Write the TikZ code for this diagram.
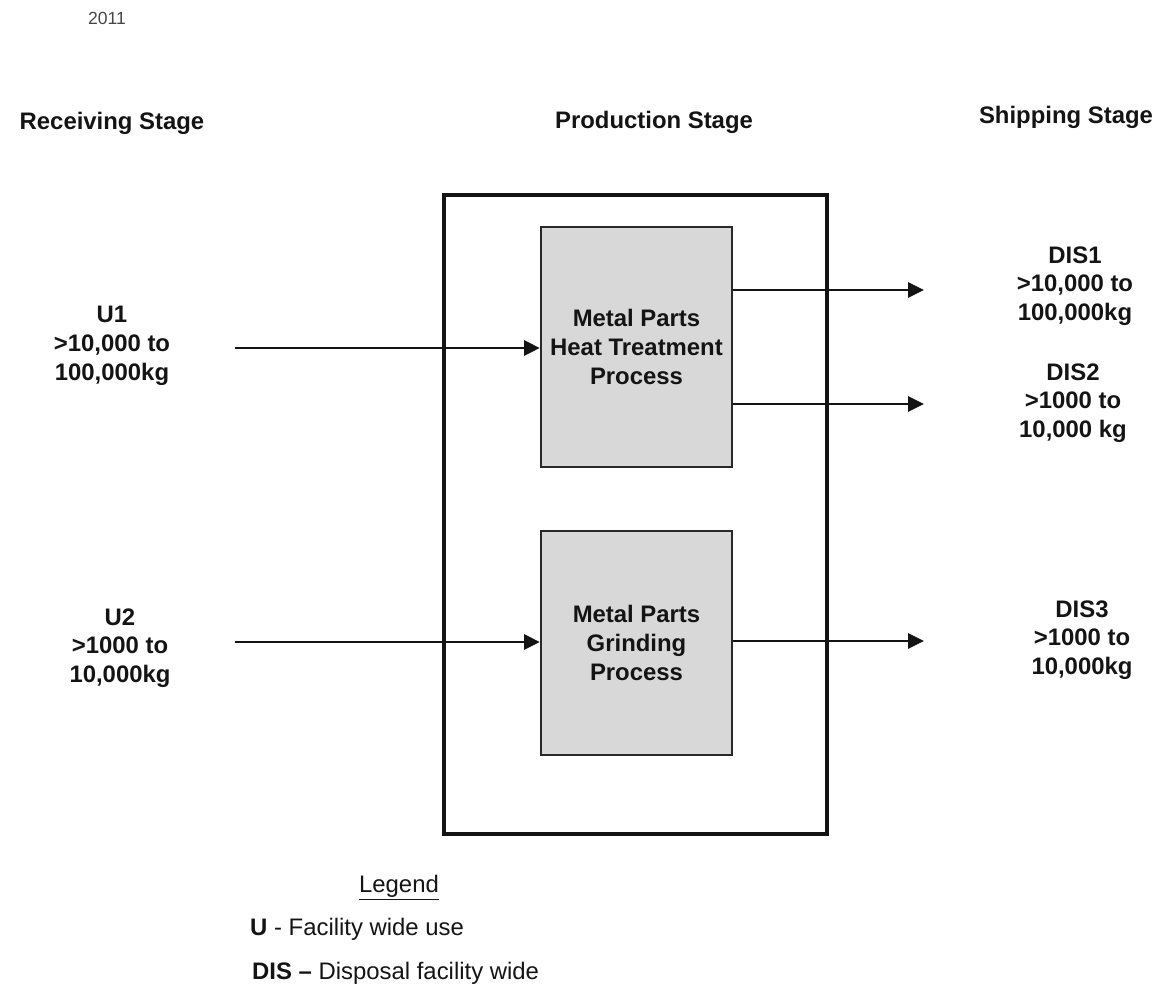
\documentclass[tikz,border=0pt]{standalone}
\usepackage{fontspec}
\setmainfont{Liberation Sans}
\usepackage{xcolor}
\usepackage{tikz}
\usetikzlibrary{arrows.meta,positioning}
\definecolor{procgray}{RGB}{216,216,216}
\definecolor{edgegray}{RGB}{40,40,40}
\definecolor{inkblack}{RGB}{20,20,20}
\definecolor{yeargray}{RGB}{70,70,70}

\begin{document}
\begin{tikzpicture}[x=0.02cm, y=-0.02cm,
  lbl/.style={align=center, text=inkblack, font=\fontsize{13.6}{16.4}\selectfont\bfseries},
  proc/.style={draw=edgegray, line width=1.3pt, fill=procgray, minimum width=3.82cm, align=center, text=inkblack, font=\fontsize{13.6}{16.4}\selectfont\bfseries},
  flow/.style={-{Triangle[length=9pt, width=8.5pt]}, line width=1.6pt, draw=inkblack},
  leg/.style={anchor=west, text=inkblack, font=\fontsize{13.6}{16.4}\selectfont}]
  \useasboundingbox (0,0) rectangle (1167,987);
  \node[font=\fontsize{10}{12}\selectfont, text=yeargray] (yr) at (107,18) {2011};
  % stage titles
  \node[lbl] (rcv) at (112,123) {Receiving Stage};
  \node[lbl] (prd) at (654,122) {Production Stage};
  \node[lbl] (shp) at (1066,117) {Shipping Stage};
  % production frame and the two processes
  \node[draw=inkblack, line width=2.4pt, minimum width=7.66cm, minimum height=12.78cm] (frame) at (635.5,514.5) {};
  \node[proc, minimum height=4.8cm] (heat) at (636.5,347) {Metal Parts\\Heat Treatment\\Process};
  \node[proc, minimum height=4.48cm] (grind) at (636.5,643) {Metal Parts\\Grinding\\Process};
  % inputs
  \node[lbl] (u1) at (112,346) {U1\\>10,000 to\\100,000kg};
  \node[lbl] (u2) at (120,648) {U2\\>1000 to\\10,000kg};
  \coordinate (u1in) at (235,348);
  \coordinate (u2in) at (235,642);
  % outputs
  \node[lbl] (dis1) at (1075,286) {DIS1\\>10,000 to\\100,000kg};
  \node[lbl] (dis2) at (1073,403) {DIS2\\>1000 to\\10,000 kg};
  \node[lbl] (dis3) at (1082,640) {DIS3\\>1000 to\\10,000kg};
  \coordinate (o1) at (924,290);
  \coordinate (o2) at (924,404);
  \coordinate (o3) at (924,641);
  \draw[flow] (u1in) -- (heat.west |- u1in); \draw[flow] (u2in) -- (grind.west |- u2in);
  \draw[flow] (heat.east |- o1) -- (o1); \draw[flow] (heat.east |- o2) -- (o2); \draw[flow] (grind.east |- o3) -- (o3);
  % legend
  \node[text=inkblack, font=\fontsize{13.6}{16.4}\selectfont] (legt) at (399,888) {\underline{Legend}};
  \node[leg] (legu) at (244,929) {\textbf{U} - Facility wide use};
  \node[leg] (legd) at (246,973) {\textbf{DIS --} Disposal facility wide};
\end{tikzpicture}
\end{document}
